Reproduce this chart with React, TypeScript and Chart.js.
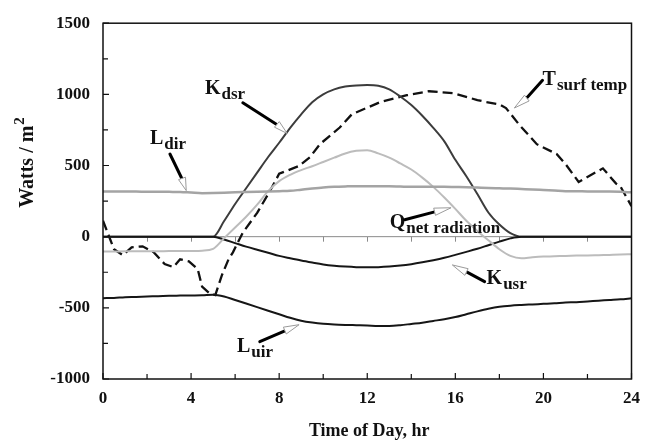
import React, { useEffect, useRef } from "react";
import { Chart, registerables } from "chart.js";

Chart.register(...registerables);

// ---- data (hours, W/m^2) ----
const hours = [
  0, 0.5, 1, 1.5, 2, 2.5, 3, 3.5, 4, 4.5, 5, 5.5, 6, 6.5, 7, 7.5, 8, 8.5, 9, 9.5,
  10, 10.5, 11, 11.5, 12, 12.5, 13, 13.5, 14, 14.5, 15, 15.5, 16, 16.5, 17, 17.5,
  18, 18.5, 19, 19.5, 20, 20.5, 21, 21.5, 22, 22.5, 23, 23.5, 24,
];

const kdsr = [
  0, 0, 0, 0, 0, 0, 0, 0, 0, 0, 0, 110, 230, 340, 450, 560, 660, 765, 860, 945,
  1000, 1035, 1055, 1063, 1065, 1060, 1035, 985, 925, 850, 765, 670, 540, 425, 300, 170,
  85, 25, 0, 0, 0, 0, 0, 0, 0, 0, 0, 0, 0,
];

const qnet = [
  -105, -104, -103, -103, -102, -102, -101, -101, -100, -98, -85, -10, 65, 140, 225, 320, 390, 435, 468, 495,
  525, 555, 585, 603, 608, 585, 555, 515, 472, 415, 350, 275, 195, 112, 40, -25,
  -88, -135, -152, -145, -140, -138, -135, -133, -132, -130, -128, -126, -123,
];

const ldir = [
  318, 318, 317, 317, 316, 316, 315, 314, 310, 306, 307, 309, 312, 314, 316, 318, 320, 322, 330, 338,
  345, 350, 353, 355, 355, 355, 354, 352, 350, 350, 350, 350, 349, 348, 345, 342,
  340, 338, 335, 332, 328, 324, 320, 320, 318, 318, 317, 315, 312,
];

const kusr = [
  0, 0, 0, 0, 0, 0, 0, 0, 0, 0, 0, -20, -45, -70, -92, -113, -135, -152, -168, -182,
  -195, -204, -210, -214, -215, -214, -210, -203, -193, -180, -165, -148, -128, -107, -85, -60,
  -35, -12, 0, 0, 0, 0, 0, 0, 0, 0, 0, 0, 0,
];

const luir = [
  -432, -430, -425, -423, -420, -418, -415, -414, -413, -412, -408, -420, -445, -470, -495, -520, -545, -570, -590, -603,
  -612, -617, -620, -622, -624, -627, -627, -622, -613, -604, -592, -580, -565, -545, -525, -507,
  -493, -485, -480, -476, -472, -468, -463, -460, -455, -450, -445, -440, -433,
];

const tsurfHours = [
  0, 0.5, 0.9, 1.3, 1.8, 2.3, 2.8, 3.2, 3.5, 3.9, 4.3, 4.5, 4.85, 5.1, 5.4, 5.7, 5.9, 6.35, 7.0, 7.6,
  8.0, 8.9, 9.4, 9.85, 10.75, 11.3, 12.6, 13.8, 14.8, 15.9, 17.0, 17.4, 18.0, 18.3, 18.9, 19.7, 20.6, 21.0,
  21.6, 22.7, 23.3, 23.5, 24,
];
const tsurf = [
  112, -88, -130, -75, -68, -109, -192, -214, -159, -173, -227, -351, -400, -410, -270, -159, -110, 29, 167, 326,
  442, 497, 559, 650, 767, 860, 946, 994, 1022, 1008, 960, 946, 930, 904, 787, 650, 581, 511,
  385, 480, 373, 352, 214,
];

const xTicks = [0, 4, 8, 12, 16, 20, 24];
const yTicks = [-1000, -500, 0, 500, 1000, 1500];

const FONT = "'Liberation Serif', 'Times New Roman', serif";

// annotation placement in data coordinates (hour, value)
const annotations = [
  { main: "K", sub: "dsr", at: [4.63, 1000], arrow: [[6.35, 941], [7.89, 788], [8.35, 726]] },
  { main: "L", sub: "dir", at: [2.13, 650], arrow: [[3.04, 581], [3.58, 409], [3.77, 326]] },
  { main: "T", sub: "surf temp", at: [19.96, 1065], arrow: [[19.96, 1099], [19.24, 975], [18.69, 906]] },
  { main: "Q", sub: "net radiation", at: [13.02, 64], arrow: [[13.7, 119], [15.06, 174], [15.79, 202]] },
  { main: "K", sub: "usr", at: [17.42, -330], arrow: [[17.33, -316], [16.51, -247], [15.88, -199]] },
  { main: "L", sub: "uir", at: [6.08, -813], arrow: [[7.12, -737], [8.26, -661], [8.89, -620]] },
];

const toXY = (xs: number[], ys: number[]) => xs.map((x, i) => ({ x, y: ys[i] }));

const deco = {
  id: "deco",
  beforeDatasetsDraw(chart: any) {
    const { ctx, chartArea: a, scales } = chart;
    const xs = scales.x, ys = scales.y;
    const y0 = ys.getPixelForValue(0);
    ctx.save();
    ctx.strokeStyle = "#8a8a8a";
    ctx.lineWidth = 1;
    ctx.beginPath();
    ctx.moveTo(a.left, y0);
    ctx.lineTo(a.right, y0);
    for (let h = 2; h < 24; h += 2) {
      const px = Math.round(xs.getPixelForValue(h)) + 0.5;
      ctx.moveTo(px, y0);
      ctx.lineTo(px, y0 + 5);
    }
    ctx.stroke();
    ctx.restore();
  },
  afterDraw(chart: any) {
    const { ctx, chartArea: a, scales } = chart;
    const xs = scales.x, ys = scales.y;
    ctx.save();
    // frame
    ctx.strokeStyle = "#111";
    ctx.lineWidth = 1.5;
    ctx.strokeRect(a.left, a.top, a.right - a.left, a.bottom - a.top);
    // inward ticks
    ctx.lineWidth = 1.2;
    ctx.beginPath();
    for (let v = -1000; v <= 1500; v += 250) {
      const py = ys.getPixelForValue(v);
      const len = v % 500 === 0 ? 6 : 5;
      ctx.moveTo(a.left, py);
      ctx.lineTo(a.left + len, py);
    }
    for (let h = 0; h <= 24; h += 2) {
      const px = xs.getPixelForValue(h);
      const len = h % 4 === 0 ? 6 : 5;
      ctx.moveTo(px, a.bottom);
      ctx.lineTo(px, a.bottom - len);
    }
    ctx.stroke();

    // axis titles
    ctx.fillStyle = "#111";
    ctx.font = `bold 18px ${FONT}`;
    ctx.textAlign = "center";
    ctx.textBaseline = "alphabetic";
    ctx.fillText("Time of Day, hr", (a.left + a.right) / 2 + 2, 436);

    ctx.save();
    ctx.translate(33, 163);
    ctx.rotate(-Math.PI / 2);
    ctx.font = `bold 20px ${FONT}`;
    const t1 = "Watts / m";
    const w1 = ctx.measureText(t1).width;
    ctx.font = `bold 15px ${FONT}`;
    const w2 = ctx.measureText("2").width;
    const start = -(w1 + w2) / 2;
    ctx.textAlign = "left";
    ctx.font = `bold 20px ${FONT}`;
    ctx.fillText(t1, start, 0);
    ctx.font = `bold 15px ${FONT}`;
    ctx.fillText("2", start + w1 + 1, -9);
    ctx.restore();

    // annotations
    for (const an of annotations) {
      const lx = xs.getPixelForValue(an.at[0]);
      const ly = ys.getPixelForValue(an.at[1]);
      ctx.textAlign = "left";
      ctx.font = `bold 20px ${FONT}`;
      ctx.fillText(an.main, lx, ly);
      const mw = ctx.measureText(an.main).width;
      ctx.font = `bold 17px ${FONT}`;
      ctx.fillText(an.sub, lx + mw + 1, ly + 5);

      const p = an.arrow.map(([h, v]) => [xs.getPixelForValue(h), ys.getPixelForValue(v)]);
      ctx.strokeStyle = "#000";
      ctx.lineWidth = 3;
      ctx.lineCap = "round";
      ctx.beginPath();
      ctx.moveTo(p[0][0], p[0][1]);
      ctx.lineTo(p[1][0], p[1][1]);
      ctx.stroke();
      const dx = p[2][0] - p[1][0], dy = p[2][1] - p[1][1];
      const L = Math.hypot(dx, dy) || 1;
      const nx = -dy / L, ny = dx / L;
      const w = 3.5;
      ctx.beginPath();
      ctx.moveTo(p[2][0], p[2][1]);
      ctx.lineTo(p[1][0] + nx * w, p[1][1] + ny * w);
      ctx.lineTo(p[1][0] - nx * w, p[1][1] - ny * w);
      ctx.closePath();
      ctx.fillStyle = "#fff";
      ctx.fill();
      ctx.strokeStyle = "#9a9a9a";
      ctx.lineWidth = 1;
      ctx.stroke();
      ctx.fillStyle = "#111";
    }
    ctx.restore();
  },
};

export default function App() {
  const ref = useRef<HTMLCanvasElement | null>(null);
  useEffect(() => {
    if (!ref.current) return;
    const line = (label: string, data: any, color: string, width: number, dash: number[] = []) => ({
      label,
      data,
      borderColor: color,
      backgroundColor: color,
      borderWidth: width,
      borderDash: dash,
      pointRadius: 0,
      cubicInterpolationMode: "monotone",
      fill: false,
    });
    const chart = new Chart(ref.current, {
      type: "line",
      data: {
        datasets: [
          line("Ldir", toXY(hours, ldir), "#a4a4a4", 2.5),
          line("Qnet", toXY(hours, qnet), "#bcbcbc", 2),
          line("Luir", toXY(hours, luir), "#161616", 2),
          line("Kusr", toXY(hours, kusr), "#161616", 2),
          line("Kdsr", toXY(hours, kdsr), "#3c3c3c", 2),
          { ...line("Tsurf", toXY(tsurfHours, tsurf), "#111111", 2.3, [10, 5]), cubicInterpolationMode: "default", tension: 0 },
        ],
      },
      options: {
        responsive: false,
        animation: false,
        layout: { padding: { top: 17, right: 17, left: 0, bottom: 0 } },
        plugins: { legend: { display: false }, tooltip: { enabled: false } },
        scales: {
          x: {
            type: "linear",
            min: 0,
            max: 24,
            grid: { display: false, drawTicks: false },
            border: { display: false },
            afterBuildTicks: (s: any) => { s.ticks = xTicks.map((v) => ({ value: v })); },
            afterFit: (s: any) => { s.height = 64; },
            ticks: {
              padding: 9,
              color: "#111",
              font: { family: FONT, size: 17, weight: "bold" },
              maxRotation: 0,
              callback: (v: any) => String(v),
            },
          },
          y: {
            type: "linear",
            min: -1000,
            max: 1500,
            grid: { display: false, drawTicks: false },
            border: { display: false },
            afterBuildTicks: (s: any) => { s.ticks = yTicks.map((v) => ({ value: v })); },
            afterFit: (s: any) => { s.width = 103; },
            ticks: {
              padding: 13,
              color: "#111",
              font: { family: FONT, size: 17, weight: "bold" },
              callback: (v: any) => String(v),
            },
          },
        },
      },
      plugins: [deco],
    });
    return () => chart.destroy();
  }, []);
  return (
    <div style={{ position: "fixed", left: 0, top: 0, width: 649, height: 443, background: "#fff" }}>
      <canvas ref={ref} width={649} height={443} style={{ display: "block" }} />
    </div>
  );
}
